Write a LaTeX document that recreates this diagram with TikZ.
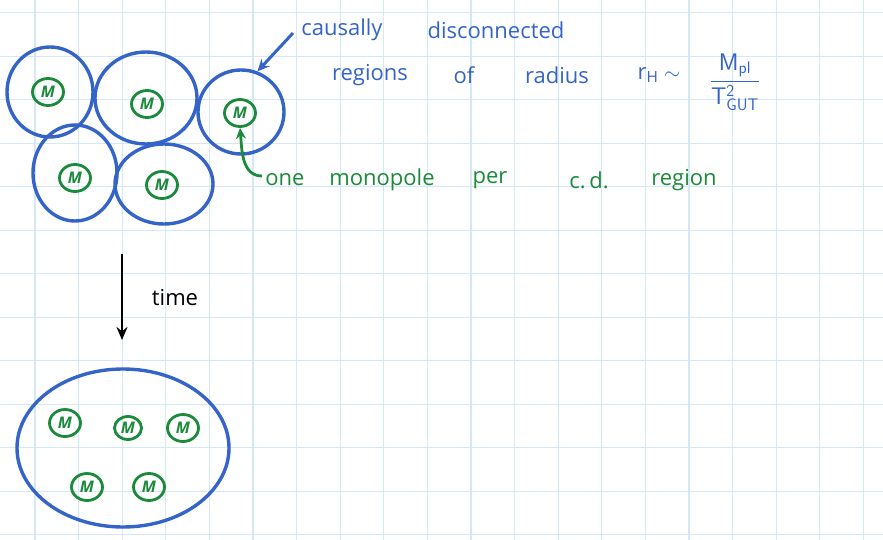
\documentclass[tikz,border=0pt]{standalone}
\usepackage{fontspec}
\setmainfont{Open Sans}
\usetikzlibrary{shapes.geometric,arrows.meta}
\definecolor{inkblue}{HTML}{3464C8}
\definecolor{inkgreen}{HTML}{1B8A3A}
\definecolor{gridblue}{HTML}{D3E9F8}
\tikzset{
  gridline/.style={draw=gridblue,line width=1.3pt},
  region/.style={ellipse,draw=inkblue,line width=3.4pt,inner sep=0pt},
  mono/.style={ellipse,draw=inkgreen,line width=2.8pt,inner sep=0pt,minimum width=31pt,minimum height=27pt,text=inkgreen,font=\fontsize{16}{16}\selectfont\bfseries\itshape},
  bluetext/.style={text=inkblue,font=\fontsize{22}{26}\selectfont,inner sep=0pt},
  greentext/.style={text=inkgreen,font=\fontsize{22}{26}\selectfont,inner sep=0pt},
  blacktext/.style={text=black,font=\fontsize{22}{26}\selectfont,inner sep=0pt},
}
\begin{document}
\begin{tikzpicture}[x=1pt,y=-1pt]
\useasboundingbox (0,0) rectangle (883,540);
\fill[white] (0,0) rectangle (883,540);
\foreach \i in {0,...,19} \draw[gridline] ({35+43.6*\i},0) -- ({35+43.6*\i},540);
\foreach \j in {0,...,12} \draw[gridline] (0,{12.7+43.5*\j}) -- (883,{12.7+43.5*\j});

% causally disconnected regions
\node[region,minimum width=86pt,minimum height=90pt] (C1) at (50,92) {};
\node[region,minimum width=102pt,minimum height=92pt] (C2) at (146,98) {};
\node[region,minimum width=86pt,minimum height=84pt] (C3) at (241,112) {};
\node[region,minimum width=84pt,minimum height=96pt] (C4) at (75,173) {};
\node[region,minimum width=98pt,minimum height=80pt] (C5) at (164,184) {};

\node[mono] (m1) at (48,92) {M};
\node[mono] (m2) at (147,104) {M};
\node[mono] (m3) at (240,113) {M};
\node[mono] (m4) at (75,178) {M};
\node[mono] (m5) at (162,185) {M};

% blue annotation
\coordinate (bstart) at (293,33);
\draw[draw=inkblue,line width=3pt,-{Stealth[length=12pt,width=11pt]}] (bstart) -- (C3.68);
\node[bluetext] (t1) at (342,30) {causally};
\node[bluetext] (t2) at (496,30) {disconnected};
\node[bluetext] (t3) at (370,75) {regions};
\node[bluetext] (t4) at (464,75) {of};
\node[bluetext] (t5) at (557,75) {radius};
\node[bluetext] (t6) at (659,75) {r\textsubscript{H} $\sim$};
\node[text=inkblue,inner sep=0pt,font=\fontsize{24}{28}\selectfont] (t7) at (735,82)
  {$\displaystyle\frac{\mathsf{M}_{\mathsf{pl}}}{\mathsf{T}^{\mathsf{2}}_{\mathsf{GUT}}}$};

% green annotation
\coordinate (gstart) at (262,176);
\draw[draw=inkgreen,line width=2.8pt,-{Stealth[length=11pt,width=10pt]}] (gstart) to[out=180,in=-85] (m3.south);
\node[greentext] (g1) at (285,180) {one};
\node[greentext] (g2) at (382,180) {monopole};
\node[greentext] (g3) at (490,180) {per};
\node[greentext] (g4) at (589,180) {c.\,d.};
\node[greentext] (g5) at (684,180) {region};

% time arrow
\coordinate (ta) at (122,254);
\coordinate (tb) at (122,340);
\draw[line width=2.8pt,-{Stealth[length=13pt,width=11pt]}] (ta) -- (tb);
\node[blacktext] (time) at (175,298) {time};

% later universe
\node[region,minimum width=212pt,minimum height=158pt] (U) at (123,448) {};
\node[mono] (n1) at (65,423) {M};
\node[mono,minimum width=27pt,minimum height=23pt] (n2) at (128,428) {M};
\node[mono] (n3) at (183,428) {M};
\node[mono] (n4) at (87,487) {M};
\node[mono] (n5) at (149,487) {M};
\end{tikzpicture}
\end{document}
